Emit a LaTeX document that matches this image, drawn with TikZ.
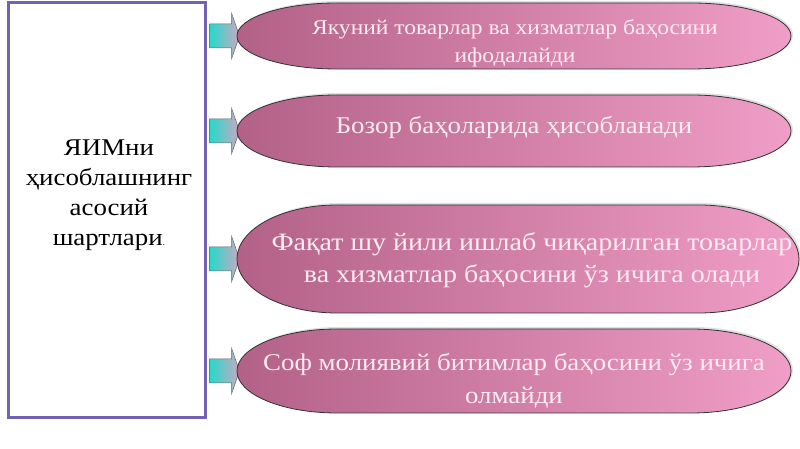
\documentclass[tikz,border=0pt]{standalone}
\usepackage{fontspec}
\setmainfont{Liberation Serif}[FakeStretch=1.12]
\begin{document}
\begin{tikzpicture}[x=1pt, y=1pt,
    frame/.style={draw=my-purple, line width=3pt, minimum width=197pt, minimum height=415pt, inner sep=0pt},
    pilltext/.style={text=my-light, font=\fontsize{24}{33}\selectfont, align=center, inner sep=0pt},
    pill/.style={draw=black!80, line width=0.8pt, left color=my-mauve, right color=my-pink},
    barrow/.style={draw=black!60, line width=0.5pt, left color=my-cyan, right color=my-grey}]
    \definecolor{my-purple}{rgb}{0.45,0.38,0.70}
    \definecolor{my-mauve}{rgb}{0.70,0.38,0.53}
    \definecolor{my-pink}{rgb}{0.94,0.62,0.78}
    \definecolor{my-light}{rgb}{0.99,0.92,0.95}
    \definecolor{my-cyan}{rgb}{0.15,0.85,0.80}
    \definecolor{my-grey}{rgb}{0.80,0.66,0.76}
    % #1 centre y, #2 half height, #3 right end
    \def\pill#1#2#3{
      \fill[black!12] (339,#1+#2+2) -- (#3-98,#1+#2+2) arc[start angle=90, end angle=-90, x radius=100, y radius=#2+1] -- (339,#1-#2) arc[start angle=270, end angle=90, x radius=100, y radius=#2+1] -- cycle;
      \draw[pill] (337,#1+#2) -- (#3-100,#1+#2) arc[start angle=90, end angle=-90, x radius=100, y radius=#2] -- (337,#1-#2) arc[start angle=270, end angle=90, x radius=100, y radius=#2] -- cycle;
    }
    \useasboundingbox (0,0) rectangle (800,449);
    \node[frame] (frame) at (106.5,238.5) {};
    \node[font=\fontsize{24}{30}\selectfont, align=center] (title) at (109,254) {ЯИМни\\ҳисоблашнинг\\асосий\\шартлари{\small .}};
    \coordinate (c1) at (515,413);
    \coordinate (c2) at (515,318);
    \coordinate (c3) at (515,190);
    \coordinate (c4) at (515,78);
    \draw[barrow] ([xshift=3pt, yshift=-12pt]frame.east |- c1) -- ++(22,0) -- ++(0,-11) -- ++(8,23) -- ++(-8,23) -- ++(0,-11) -- ++(-22,0) -- cycle;
    \draw[barrow] ([xshift=3pt, yshift=-12pt]frame.east |- c2) -- ++(22,0) -- ++(0,-11) -- ++(8,23) -- ++(-8,23) -- ++(0,-11) -- ++(-22,0) -- cycle;
    \draw[barrow] ([xshift=3pt, yshift=-12pt]frame.east |- c3) -- ++(22,0) -- ++(0,-11) -- ++(8,23) -- ++(-8,23) -- ++(0,-11) -- ++(-22,0) -- cycle;
    \draw[barrow] ([xshift=3pt, yshift=-12pt]frame.east |- c4) -- ++(22,0) -- ++(0,-11) -- ++(8,23) -- ++(-8,23) -- ++(0,-11) -- ++(-22,0) -- cycle;
    \pill{413}{33}{791}
    \pill{318}{36}{791}
    \pill{190}{54}{799}
    \pill{78}{42}{791}
    \node[pilltext, font=\fontsize{21}{28}\selectfont] (t1) at (515,406) {Якуний товарлар ва хизматлар баҳосини\\ифодалайди};
    \node[pilltext] (t2) at (514,322) {Бозор баҳоларида ҳисобланади};
    \node[pilltext, font=\fontsize{25}{32}\selectfont] (t3) at (532,189) {Фақат шу йили ишлаб чиқарилган товарлар\\ва хизматлар баҳосини ўз ичига олади};
    \node[pilltext] (t4) at (514,68) {Соф молиявий битимлар баҳосини ўз ичига\\олмайди};
  \end{tikzpicture}
\end{document}
